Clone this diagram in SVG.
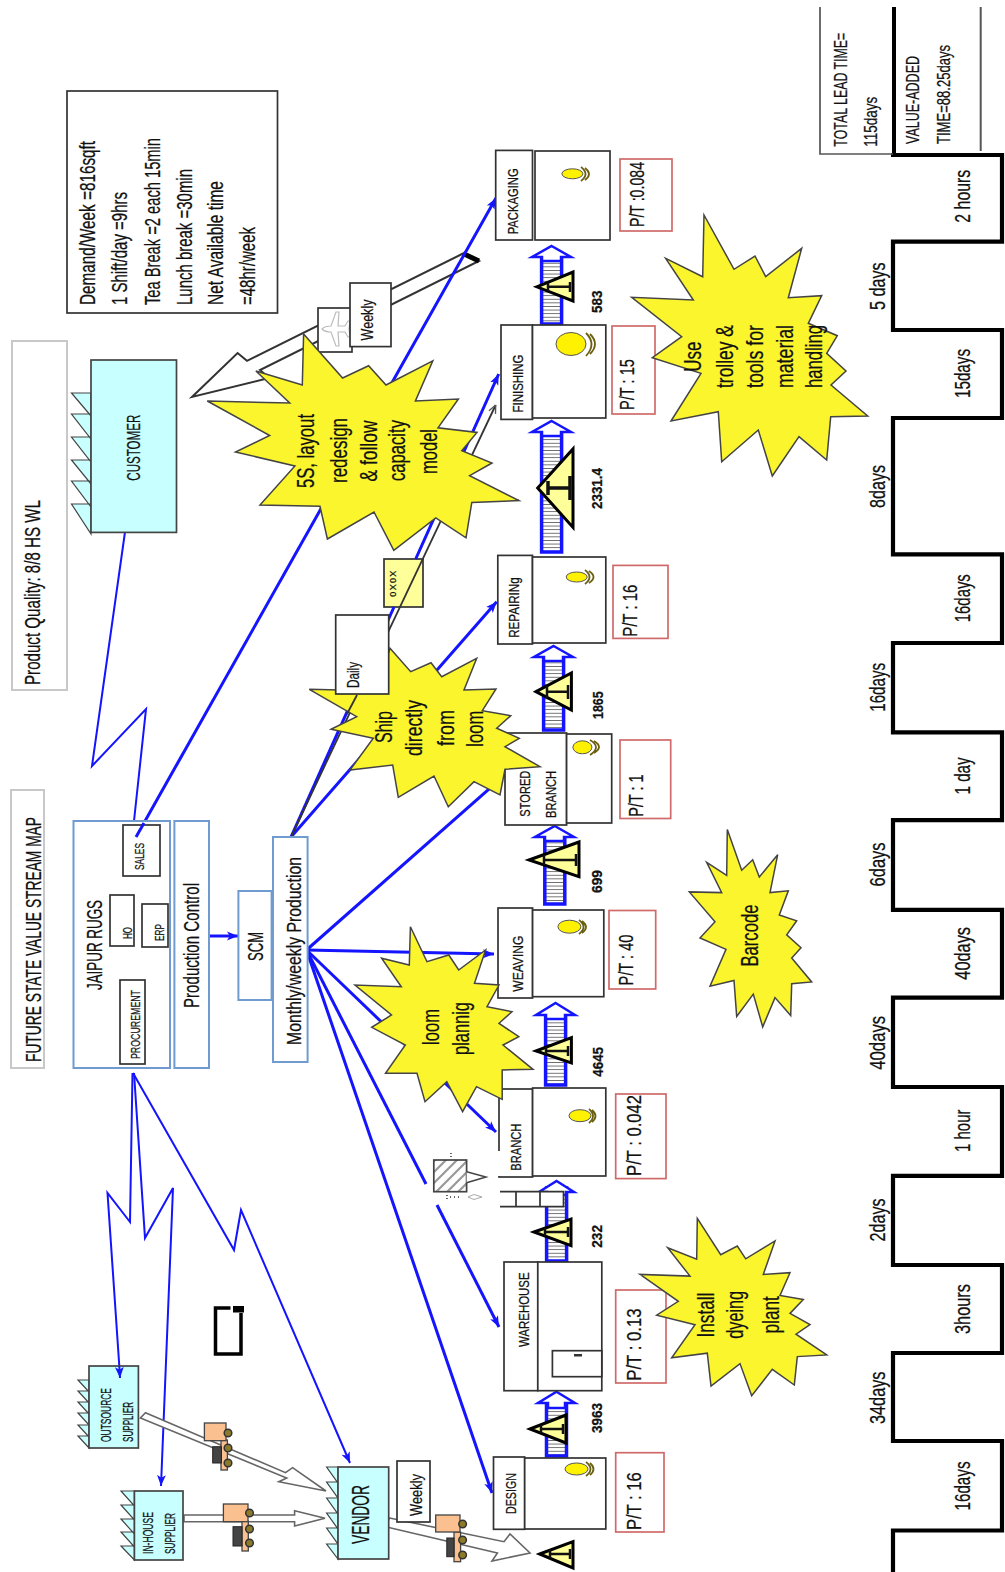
<svg xmlns="http://www.w3.org/2000/svg" width="1005" height="1572" viewBox="0 0 1005 1572">
<style>
text{font-family:"Liberation Sans","Open Sans",sans-serif;fill:#111;stroke:#111;stroke-width:.25}
.s9{font-size:9px}.s12{font-size:12px}.s13{font-size:13px}.s15{font-size:15px}.s17{font-size:17px}.s19{font-size:19px}.s21{font-size:21px}.s22{font-size:22px}.s24{font-size:24px}
.num{font-size:14px;font-weight:bold}
.blue{fill:#fff;stroke:#6f9bd0;stroke-width:2}
.gbox{fill:#fff;stroke:#c8c8c8;stroke-width:2}
.box{fill:#fff;stroke:#333;stroke-width:1.7}
.pt{fill:#fff;stroke:#d06a6a;stroke-width:1.7}
.sup{fill:#c8ffff;stroke:#444;stroke-width:1.7}
.tooth{fill:#c8ffff;stroke:#444;stroke-width:1.2}
.burst{fill:#fbf52e;stroke:#444;stroke-width:1.5;stroke-linejoin:miter}
.b2{fill:none;stroke:#1414ff;stroke-width:2}
.b3{fill:none;stroke:#1414ff;stroke-width:3}
.push{fill:#fff;stroke:#666;stroke-width:1.6}
.tri{fill:#ffff99;stroke:#000;stroke-width:3;stroke-linejoin:miter}
.i{fill:none;stroke:#111;stroke-width:2.5}
.fat{fill:url(#stripes);stroke:#1414ff;stroke-width:3.5}
.head{fill:#fff;stroke:#1414ff;stroke-width:2.5}
.op{fill:#fff200;stroke:#555;stroke-width:1}
.arc{fill:none;stroke:#6b5f10;stroke-width:1.8}
.cab{fill:#444;stroke:#222;stroke-width:1}
.peach{fill:#fac090;stroke:#444;stroke-width:1.3}
.wheel{fill:#8a7a2a;stroke:#333;stroke-width:1.5}
.gl{stroke:#666;stroke-width:1.7;fill:none}
</style>
<defs>
<marker id="ah" viewBox="0 0 10 10" refX="10" refY="5" markerWidth="11" markerHeight="11" markerUnits="userSpaceOnUse" orient="auto"><path d="M0,1L10,5L0,9L2.5,5Z" fill="#1414ff"/></marker>
<marker id="ag" viewBox="0 0 10 10" refX="10" refY="5" markerWidth="9" markerHeight="9" markerUnits="userSpaceOnUse" orient="auto"><path d="M1,1L10,5L1,9" fill="none" stroke="#555" stroke-width="1.5"/></marker>
<pattern id="stripes" patternUnits="userSpaceOnUse" width="3.6" height="3.6"><rect width="3.6" height="3.6" fill="#fff"/><rect width="3.6" height="0.9" fill="#666"/></pattern>
<pattern id="diag" patternUnits="userSpaceOnUse" width="11" height="11"><rect width="11" height="11" fill="#fff"/><path d="M-2,2L2,-2M0,11L11,0M9,13L13,9" stroke="#999" stroke-width="2.2"/></pattern>
</defs>
<rect width="1005" height="1572" fill="#fff"/>

<g id="title"><rect class="gbox" x="11" y="790" width="33" height="278"/>
<text class="s22" transform="translate(41,1062) rotate(-90)" textLength="245" lengthAdjust="spacingAndGlyphs">FUTURE STATE VALUE STREAM MAP</text></g>
<g id="quality"><rect class="gbox" x="12" y="341" width="55" height="349"/>
<text class="s22" transform="translate(40,685) rotate(-90)" textLength="185" lengthAdjust="spacingAndGlyphs">Product  Quality: 8/8 HS WL</text></g>
<g id="notes"><rect x="67" y="91" width="210.500" height="222" fill="#fff" stroke="#333" stroke-width="1.7"/>
<text class="s22" transform="translate(94.500,305) rotate(-90)" textLength="164" lengthAdjust="spacingAndGlyphs">Demand/Week =816sqft</text>
<text class="s22" transform="translate(127,305) rotate(-90)" textLength="113" lengthAdjust="spacingAndGlyphs">1 Shift/day =9hrs</text>
<text class="s22" transform="translate(159.600,305) rotate(-90)" textLength="167" lengthAdjust="spacingAndGlyphs">Tea Break =2 each 15min</text>
<text class="s22" transform="translate(191.700,305) rotate(-90)" textLength="136" lengthAdjust="spacingAndGlyphs">Lunch break =30min</text>
<text class="s22" transform="translate(222.500,305) rotate(-90)" textLength="124" lengthAdjust="spacingAndGlyphs">Net Available time</text>
<text class="s22" transform="translate(255,305) rotate(-90)" textLength="78" lengthAdjust="spacingAndGlyphs">=48hr/week</text></g>

<g id="xoxo"><rect x="384" y="559" width="39" height="48" fill="#ffff99" stroke="#333" stroke-width="1.7"/>
<text class="s9" transform="translate(396,596.700) rotate(-90)" textLength="26" lengthAdjust="spacing">0 X 0 X</text></g>

<g id="connectors">
<path class="gl" d="M463,253.500L247,360.800L237.600,353L192,397L269,378L260,370L479,261Z" style="fill:#fff;stroke:#333;stroke-width:2"/>
<path d="M463,253.500L479,261" stroke="#000" stroke-width="5"/>
<path class="b2" d="M125,532L92,766L146,709L134,821"/>
<path class="b2" d="M132.500,1073L130,1222L107.500,1193L119.300,1366"/>
<path class="b2" d="M134,1073L145,1238L173,1188L161,1486" marker-end="url(#ah)"/>
<path class="b2" d="M133,1073L234,1250L241,1210L350,1463" marker-end="url(#ah)"/>
<path class="b3" d="M136,837L496,198" marker-end="url(#ah)"/>
<path class="b3" d="M209,936L238,936" marker-end="url(#ah)"/>
<path class="b3" d="M306.500,950L522,760"/>
<path class="b3" d="M306.500,950L494,954" marker-end="url(#ah)"/>
<path class="b3" d="M306.500,950L496,1132" marker-end="url(#ah)"/>
<path class="b3" d="M306.500,950L426,1184"/>
<path class="b3" d="M437,1205L499,1327" marker-end="url(#ah)"/>
<path class="b3" d="M306.500,950L492,1493" marker-end="url(#ah)"/>
<path class="b3" d="M291,837L496.700,601.700" marker-end="url(#ah)"/>
<path class="b3" d="M291,837L394,607"/>
<path class="b3" d="M415.700,559L498.700,374" marker-end="url(#ah)"/>
<path d="M291,837L495.700,405" stroke="#333" stroke-width="1.8" fill="none" marker-end="url(#ag)"/>
<path class="push" d="M145.500,1412.700L285.500,1472.700L292.600,1467.700L326,1491L278.800,1481.700L286.700,1478L140.400,1418Z"/>
<path class="push" d="M184,1515L294.600,1515L294.600,1510.700L325,1518.300L294.600,1526L294.600,1521.700L184,1521.700Z"/>
<path class="push" d="M389.500,1518L504,1541.700L510,1534L530,1553L492,1561L497.400,1553L385.500,1526.700Z"/>
</g>

<g id="jaipur-rugs"><rect class="blue" x="73.500" y="821" width="96.500" height="247"/>
<text class="s22" transform="translate(102,990) rotate(-90)" textLength="90" lengthAdjust="spacingAndGlyphs">JAIPUR RUGS</text>
<rect class="box" x="123" y="825" width="37" height="51"/><text class="s13" transform="translate(143.500,870) rotate(-90)" textLength="27" lengthAdjust="spacingAndGlyphs">SALES</text>
<path class="b3" d="M136,837L144,823" />
<rect class="box" x="110" y="895" width="24" height="51"/><text class="s12" transform="translate(131.700,939) rotate(-90)" textLength="12" lengthAdjust="spacingAndGlyphs">HO</text>
<rect class="box" x="142" y="904" width="26" height="43"/><text class="s12" transform="translate(164,941) rotate(-90)" textLength="17" lengthAdjust="spacingAndGlyphs">ERP</text>
<rect class="box" x="120" y="980" width="25" height="84"/><text class="s13" transform="translate(140.400,1059) rotate(-90)" textLength="69" lengthAdjust="spacingAndGlyphs">PROCUREMENT</text></g>
<g id="production-control"><rect class="blue" x="174.400" y="821" width="34.600" height="247"/>
<text class="s22" transform="translate(199,1008) rotate(-90)" textLength="125" lengthAdjust="spacingAndGlyphs">Production  Control</text></g>
<g id="scm"><rect class="blue" x="238.400" y="891" width="33.200" height="109"/>
<text class="s22" transform="translate(263,961) rotate(-90)" textLength="29" lengthAdjust="spacingAndGlyphs">SCM</text></g>
<g id="monthly"><rect class="blue" x="273" y="837" width="34.600" height="225"/>
<text class="s21" transform="translate(300.500,1045) rotate(-90)" textLength="188" lengthAdjust="spacingAndGlyphs">Monthly/weekly  Production</text></g>

<g id="customer"><path class="tooth" d="M91,393H71.500L91,416ZM91,414H71.500L91,439ZM91,437H71.500L91,462ZM91,460H71.500L91,484ZM91,481H71.500L91,507ZM91,504H71.500L91,534Z"/>
<rect class="sup" x="91" y="360" width="85.500" height="172.400"/>
<text class="s19" transform="translate(139.600,480.700) rotate(-90)" textLength="66" lengthAdjust="spacingAndGlyphs">CUSTOMER</text></g>
<g id="outsource"><path class="tooth" d="M89,1380H78L89,1392ZM89,1391H78L89,1403ZM89,1402H78L89,1414ZM89,1413H78L89,1425ZM89,1425H78L89,1437ZM89,1436H78L89,1448Z"/>
<rect class="sup" x="89" y="1366" width="49.400" height="82"/>
<text class="s15" transform="translate(110.700,1442) rotate(-90)" textLength="54" lengthAdjust="spacingAndGlyphs">OUTSOURCE</text>
<text class="s15" transform="translate(132.500,1442) rotate(-90)" textLength="40" lengthAdjust="spacingAndGlyphs">SUPPLIER</text>
<path class="b2" d="M119.300,1366L120,1378" marker-end="url(#ah)"/></g>
<g id="in-house"><path class="tooth" d="M134.400,1491H121L134.400,1506ZM134.400,1505H121L134.400,1520ZM134.400,1519H121L134.400,1534ZM134.400,1532H121L134.400,1547ZM134.400,1546H121L134.400,1560Z"/>
<rect class="sup" x="134.400" y="1491" width="48.600" height="69"/>
<text class="s15" transform="translate(153.400,1554) rotate(-90)" textLength="42" lengthAdjust="spacingAndGlyphs">IN-HOUSE</text>
<text class="s15" transform="translate(175,1554) rotate(-90)" textLength="41" lengthAdjust="spacingAndGlyphs">SUPPLIER</text></g>
<g id="vendor"><path class="tooth" d="M338,1467H326.600L338,1483ZM338,1482H326.600L338,1498ZM338,1498H326.600L338,1514ZM338,1513H326.600L338,1529ZM338,1528H326.600L338,1544ZM338,1544H326.600L338,1559Z"/>
<rect class="sup" x="338" y="1467" width="50.700" height="92"/>
<text class="s24" transform="translate(368.500,1544) rotate(-90)" textLength="59" lengthAdjust="spacingAndGlyphs">VENDOR</text></g>
<g id="weekly-vendor"><rect class="box" x="397" y="1461" width="33" height="61"/>
<text class="s17" transform="translate(422,1516) rotate(-90)" textLength="42" lengthAdjust="spacingAndGlyphs">Weekly</text></g>
<g id="ibox"><path d="M230.500,1308H215.500V1354H241V1313" fill="none" stroke="#000" stroke-width="3.500"/><rect x="233" y="1306" width="11" height="6.500" fill="#000"/></g>

<g id="truck-outsource"><rect class="peach" x="221" y="1440" width="6.400" height="30"/><rect class="cab" x="212.700" y="1446.700" width="8.700" height="16.300"/><rect class="peach" x="204.400" y="1423" width="21.600" height="17.700"/><circle class="wheel" cx="228" cy="1433" r="3.800"/><circle class="wheel" cx="228" cy="1448" r="3.800"/><circle class="wheel" cx="228" cy="1463" r="3.800"/></g>
<g id="truck-in-house"><rect class="peach" x="242" y="1521" width="6.300" height="30"/><rect class="cab" x="233" y="1526.700" width="9" height="19.300"/><rect class="peach" x="223.400" y="1504" width="24.600" height="17.700"/><circle class="wheel" cx="249.500" cy="1513" r="3.800"/><circle class="wheel" cx="249.500" cy="1529" r="3.800"/><circle class="wheel" cx="249.500" cy="1543" r="3.800"/></g>
<g id="truck-vendor"><rect class="peach" x="454" y="1532" width="6.600" height="29.700"/><rect class="cab" x="446.800" y="1538" width="7.200" height="18.700"/><rect class="peach" x="435.700" y="1515" width="24.300" height="17"/><circle class="wheel" cx="462.600" cy="1524" r="3.800"/><circle class="wheel" cx="462.600" cy="1540" r="3.800"/><circle class="wheel" cx="462.600" cy="1555" r="3.800"/></g>

<g id="customer-shipping"><rect class="box" x="318" y="308" width="34" height="44"/>
<path d="M322,329Q325,326 331,326L336,312L339,312L338,326L345,326L348,321L350,321L349,329L350,337L348,337L345,332L338,332L339,346L336,346L331,332Q325,332 322,329Z" fill="#fff" stroke="#bbb" stroke-width="1.2"/>
<rect class="box" x="350" y="283" width="41" height="63.600"/>
<text class="s17" transform="translate(373,340.500) rotate(-90)" textLength="41" lengthAdjust="spacingAndGlyphs">Weekly</text></g>

<g id="push-arrows">
<rect class="fat" x="546.500" y="1400" width="20" height="56"/><path class="head" d="M556.500,1391.700L575,1403H565V1408H548V1403H538Z"/>
<rect class="fat" x="546.600" y="1188" width="20" height="73"/><path class="head" d="M556.600,1181L574,1192H566V1195H547V1192H539Z"/>
<rect class="fat" x="545.600" y="1012" width="20" height="73"/><path class="head" d="M555.600,1003L575,1015H565V1019H546V1015H536Z"/>
<rect class="fat" x="544.800" y="834" width="20" height="70"/><path class="head" d="M554.800,826L574,837H564V841H545V837H535Z"/>
<rect class="fat" x="543.600" y="654" width="20" height="76"/><path class="head" d="M553.600,646L573,657H563V661H544V657H534Z"/>
<rect class="fat" x="541.600" y="429" width="20" height="123"/><path class="head" d="M551.600,421L571,432H561V436H542V432H532Z"/>
<rect class="fat" x="541.600" y="254" width="20" height="70"/><path class="head" d="M551.600,246L571,257H561V261H542V257H532Z"/>
</g>

<g id="inventory">
<g><path class="tri" d="M530,1429L566,1415V1443Z"/><path class="i" d="M541,1429H563M541,1425V1433M563,1424V1434"/><text class="num" transform="translate(601.800,1433) rotate(-90)" textLength="30" lengthAdjust="spacingAndGlyphs">3963</text></g>
<g><path class="tri" d="M534,1232L571,1219V1245.700Z"/><path class="i" d="M545,1232H568M545,1228V1236M568,1227V1237"/><text class="num" transform="translate(601.800,1247.700) rotate(-90)" textLength="22.700" lengthAdjust="spacingAndGlyphs">232</text></g>
<g><path class="tri" d="M536,1051L571.400,1037.700V1063Z"/><path class="i" d="M546,1051H568M546,1047V1055M568,1046V1056"/><text class="num" transform="translate(603,1076.700) rotate(-90)" textLength="29.700" lengthAdjust="spacingAndGlyphs">4645</text></g>
<g><path class="tri" d="M529,860L579,842V876.700Z"/><path class="i" d="M544,860H576M544,855V865M576,854V866"/><text class="num" transform="translate(602,893) rotate(-90)" textLength="23" lengthAdjust="spacingAndGlyphs">699</text></g>
<g><path class="tri" d="M536,691.700L571.400,673V710Z"/><path class="i" d="M547,691.700H568M547,686V698M568,685V699"/><text class="num" transform="translate(603,719) rotate(-90)" textLength="27.600" lengthAdjust="spacingAndGlyphs">1865</text></g>
<g><path class="tri" d="M537.700,488L573,449V527.400Z"/><path class="i" style="stroke-width:3.500" d="M548,488H570M548,481V495M570,476V500"/><text class="num" transform="translate(602,509) rotate(-90)" textLength="41" lengthAdjust="spacingAndGlyphs">2331.4</text></g>
<g><path class="tri" d="M536.800,286.800L573,272V301Z"/><path class="i" d="M548,286.800H570M548,283V291M570,282V292"/><text class="num" transform="translate(602,313) rotate(-90)" textLength="22.500" lengthAdjust="spacingAndGlyphs">583</text></g>
<g><path class="tri" d="M539.700,1554L573,1541.700V1568Z"/><path class="i" d="M550,1554H570M550,1550V1558M570,1549V1559"/></g>
</g>

<g id="design"><rect class="box" x="493.500" y="1457" width="31.200" height="72.300"/><rect class="box" x="524.700" y="1458" width="81.100" height="71"/>
<text class="s15" transform="translate(516,1514) rotate(-90)" textLength="41" lengthAdjust="spacingAndGlyphs">DESIGN</text>
<ellipse class="op" cx="576.500" cy="1469" rx="11.500" ry="6"/><path class="arc" d="M586,1462Q595,1469 586,1476M590,1463Q597,1469 590,1475"/></g>
<g id="warehouse"><rect class="box" x="504" y="1262" width="33.800" height="128.700"/><rect class="box" x="537.800" y="1262" width="64" height="128.700"/>
<rect class="box" x="552.400" y="1350.700" width="49.400" height="26"/><rect x="574" y="1354" width="8" height="2.500" fill="#333"/>
<text class="s15" transform="translate(528.700,1347) rotate(-90)" textLength="74.600" lengthAdjust="spacingAndGlyphs">WAREHOUSE</text></g>
<g id="branch"><rect class="box" x="499" y="1089" width="33.600" height="88"/><rect class="box" x="532.600" y="1088" width="73.200" height="88"/>
<rect x="497" y="1151" width="4" height="25" fill="#fff"/>
<text class="s15" transform="translate(520.800,1170.700) rotate(-90)" textLength="47" lengthAdjust="spacingAndGlyphs">BRANCH</text>
<ellipse class="op" cx="580" cy="1115.700" rx="11" ry="6"/><path class="arc" d="M589,1109Q597,1116 589,1123M592,1110Q599,1116 592,1122"/></g>
<g id="kaizen"><rect x="500" y="1192" width="64" height="15" fill="#fff"/>
<path d="M500,1191.700H563.500V1206.700H500M516,1191.700V1206.700M540,1191.700V1206.700" fill="none" stroke="#333" stroke-width="1.700"/>
<rect x="433.800" y="1160" width="32.800" height="31.700" fill="url(#diag)" stroke="#444" stroke-width="1.700"/>
<path d="M466.600,1171.700L486,1177L466.600,1182.700" fill="#fff" stroke="#444" stroke-width="1.500"/>
<path d="M451,1153v1M451,1156v1M447,1195v1M447,1198v1M450,1197h1M454,1197h1M458,1197h1" stroke="#333" stroke-width="1.500"/>
<path d="M468,1197L474,1194.500L482,1197L474,1199.500Z" fill="#fff" stroke="#aaa"/></g>
<g id="weaving"><rect class="box" x="498" y="908" width="34.600" height="90"/><rect class="box" x="532.600" y="910" width="71.200" height="86.700"/>
<text class="s15" transform="translate(522.700,991.700) rotate(-90)" textLength="56" lengthAdjust="spacingAndGlyphs">WEAVING</text>
<ellipse class="op" cx="569.400" cy="926.700" rx="11.500" ry="6.500"/><path class="arc" d="M579,920Q588,927 579,934M582,921Q590,927 582,933"/></g>
<g id="stored-branch"><rect class="box" x="505" y="733" width="61.600" height="92"/><rect class="box" x="566.600" y="734" width="45.100" height="89"/>
<text class="s15" transform="translate(530,816.700) rotate(-90)" textLength="46" lengthAdjust="spacingAndGlyphs">STORED</text>
<text class="s15" transform="translate(555.500,818) rotate(-90)" textLength="47" lengthAdjust="spacingAndGlyphs">BRANCH</text>
<ellipse class="op" cx="582.400" cy="747.300" rx="9.500" ry="6.500"/><path class="arc" d="M590,740Q602,747 590,755M594,741Q604,747 594,753"/></g>
<g id="repairing"><rect class="box" x="497.800" y="555.400" width="34.700" height="88.600"/><rect class="box" x="532.500" y="557" width="73.300" height="86"/>
<text class="s15" transform="translate(519,637.800) rotate(-90)" textLength="60.500" lengthAdjust="spacingAndGlyphs">REPAIRINg</text>
<ellipse class="op" cx="576.700" cy="577" rx="10.500" ry="5"/><path class="arc" d="M585,570Q594,577 585,584M589,571Q598,577 589,583"/></g>
<g id="finishing"><rect class="box" x="501" y="325" width="31.500" height="94.400"/><rect class="box" x="532.500" y="325" width="73.300" height="93"/>
<text class="s15" transform="translate(522.500,412.500) rotate(-90)" textLength="58" lengthAdjust="spacingAndGlyphs">FINISHING</text>
<ellipse class="op" cx="571" cy="344" rx="15" ry="11.500"/><path class="arc" d="M586,333Q597,344 586,356M590,334Q600,344 590,354"/></g>
<g id="packaging"><rect class="box" x="495.700" y="150.400" width="36.800" height="89.600"/><rect class="box" x="535" y="151" width="75" height="89"/>
<text class="s15" transform="translate(518,234.300) rotate(-90)" textLength="66" lengthAdjust="spacingAndGlyphs">PACKAGING</text>
<ellipse class="op" cx="572.400" cy="173.800" rx="10.500" ry="5"/><path class="arc" d="M581,167Q590,174 581,181M585,168Q593,174 585,180"/></g>

<g id="pt-boxes">
<rect class="pt" x="620" y="159" width="52" height="72"/><text class="s21" transform="translate(644,227) rotate(-90)" textLength="65" lengthAdjust="spacingAndGlyphs">P/T :0.084</text>
<rect class="pt" x="612" y="326" width="43" height="88"/><text class="s21" transform="translate(634,410) rotate(-90)" textLength="51" lengthAdjust="spacingAndGlyphs">P/T : 15</text>
<rect class="pt" x="613" y="565.400" width="55" height="73"/><text class="s21" transform="translate(636.700,636.700) rotate(-90)" textLength="52" lengthAdjust="spacingAndGlyphs">P/T : 16</text>
<rect class="pt" x="620" y="740" width="50.700" height="78.500"/><text class="s21" transform="translate(643,816.800) rotate(-90)" textLength="42.400" lengthAdjust="spacingAndGlyphs">P/T : 1</text>
<rect class="pt" x="609" y="910.500" width="46.700" height="78.500"/><text class="s21" transform="translate(633,985.500) rotate(-90)" textLength="51" lengthAdjust="spacingAndGlyphs">P/T : 40</text>
<rect class="pt" x="615.700" y="1094" width="50.300" height="84.600"/><text class="s21" transform="translate(640.700,1175.900) rotate(-90)" textLength="81" lengthAdjust="spacingAndGlyphs">P/T : 0.042</text>
<rect class="pt" x="615.700" y="1290" width="50.300" height="93"/><text class="s21" transform="translate(640.700,1380.800) rotate(-90)" textLength="72.500" lengthAdjust="spacingAndGlyphs">P/T : 0.13</text>
<rect class="pt" x="615.700" y="1452.700" width="48.300" height="79.300"/><text class="s21" transform="translate(641,1530) rotate(-90)" textLength="57.700" lengthAdjust="spacingAndGlyphs">P/T : 16</text>
</g>

<g id="burst-5s"><polygon class="burst" points="303.600,334 342.600,378 368.600,365.700 386,385 432.800,360.800 415.400,401 458.400,399 438,427.800 477,432.400 461.800,450.800 492,463 469.600,475.700 519,500.600 471.800,502.500 466,537.800 435.800,517.800 393.800,550.400 374,512 327.400,539 320,506.300 260,505 294.900,466 235.500,452 269.700,435.500 207.300,401 289.700,403 255.900,371 302.300,385"/>
<text class="s24" transform="translate(314.400,488) rotate(-90)" textLength="74" lengthAdjust="spacingAndGlyphs">5S, layout</text>
<text class="s24" transform="translate(347,483) rotate(-90)" textLength="65" lengthAdjust="spacingAndGlyphs">redesign</text>
<text class="s24" transform="translate(377,481.500) rotate(-90)" textLength="61" lengthAdjust="spacingAndGlyphs">&amp; follow</text>
<text class="s24" transform="translate(405,481) rotate(-90)" textLength="61" lengthAdjust="spacingAndGlyphs">capacity</text>
<text class="s24" transform="translate(437,474) rotate(-90)" textLength="45" lengthAdjust="spacingAndGlyphs">model</text></g>

<g id="burst-ship"><polygon class="burst" points="390,648.300 410.700,671.700 431,662.700 441.700,676.700 476.700,658.300 464,690 496,689 482.300,710.700 510.700,715.700 496.700,728.300 519.300,738.300 505,746.700 540,766.700 505,769.300 500,795 474,781.700 448.300,806.700 434,776 398.300,797.300 392.700,765 350,770 373.300,738.300 331,729.300 356.700,716.700 309.300,689.300 370,690.700 345,666.700 381,676.700"/>
<text class="s24" transform="translate(391.700,743) rotate(-90)" textLength="32" lengthAdjust="spacingAndGlyphs">Ship</text>
<text class="s24" transform="translate(421.700,756) rotate(-90)" textLength="56" lengthAdjust="spacingAndGlyphs">directly</text>
<text class="s24" transform="translate(454,746) rotate(-90)" textLength="36" lengthAdjust="spacingAndGlyphs">from</text>
<text class="s24" transform="translate(483,746.700) rotate(-90)" textLength="36" lengthAdjust="spacingAndGlyphs">loom</text></g>
<g id="daily"><rect class="box" x="335.700" y="615" width="53" height="79"/>
<text class="s17" transform="translate(359,688) rotate(-90)" textLength="26" lengthAdjust="spacingAndGlyphs">Daily</text></g>
<g id="connector-overlay"><path d="M357,695L347,714" stroke="#333" stroke-width="1.800"/></g>

<g id="burst-loom"><polygon class="burst" points="410.400,926.700 427,961.700 448.800,955 458.700,970 485.600,950 474.500,983.300 499,985 487,1006.700 512,1011.700 499,1023.300 518.800,1036.700 503,1045 533,1069.300 502.200,1070 502.200,1099.300 476.500,1086.700 462.600,1111.700 446.800,1081.700 425,1101.700 417,1073.300 385.500,1073.300 405.300,1045 371.700,1027.300 391.500,1015 355,985 401.300,986.700 381.600,958.300 409.300,965"/>
<text class="s24" transform="translate(439,1045) rotate(-90)" textLength="36" lengthAdjust="spacingAndGlyphs">loom</text>
<text class="s24" transform="translate(468.600,1055) rotate(-90)" textLength="53" lengthAdjust="spacingAndGlyphs">plannig</text></g>

<g id="burst-trolley"><polygon class="burst" points="704,215 734,269.300 755,256 765.700,276.700 801.700,248.300 788.300,297.700 821.700,295.700 808.300,323.300 837.300,335.700 826.700,353.300 846,371 831,385 867.700,416 830.700,416.700 826.700,460 799,436.700 772.300,476 758.300,430 721.700,461.700 718.300,411.700 671,421 701,373.300 652.300,357.700 681.700,336.700 631.700,297.300 693.300,300 665.700,258.300 702.700,276.700"/>
<text class="s24" transform="translate(701,371.700) rotate(-90)" textLength="30" lengthAdjust="spacingAndGlyphs">Use</text>
<text class="s24" transform="translate(733,388) rotate(-90)" textLength="63" lengthAdjust="spacingAndGlyphs">trolley &amp;</text>
<text class="s24" transform="translate(763,388) rotate(-90)" textLength="63" lengthAdjust="spacingAndGlyphs">tools for</text>
<text class="s24" transform="translate(793,388) rotate(-90)" textLength="63" lengthAdjust="spacingAndGlyphs">material</text>
<text class="s24" transform="translate(821.700,388) rotate(-90)" textLength="63" lengthAdjust="spacingAndGlyphs">handling</text></g>

<g id="burst-barcode"><polygon class="burst" points="727.300,829.500 741.700,870.200 752.700,859.800 759.300,877 777.700,854.700 770,892.600 788.300,890.800 779.300,915 796.700,920.800 786.700,934.900 801,947.700 791.700,958 811.700,982 791.700,983.800 790.700,1015.500 775,997.600 762.700,1026.900 753.300,994.100 736.700,1016.500 734,980.400 710,986.200 726,949.400 700,938 715,921.800 689.300,891.900 721.700,892.600 706.700,862.300 726.700,875.300"/>
<text class="s24" transform="translate(757.700,966.600) rotate(-90)" textLength="62" lengthAdjust="spacingAndGlyphs">Barcode</text></g>

<g id="burst-install"><polygon class="burst" points="697.300,1218.400 720.700,1254.700 737.300,1246 745.700,1258.800 775,1240.900 763.300,1274.400 790,1272.700 780,1295.500 803.300,1299.600 790,1313.400 810,1324.500 796,1334.200 826.700,1354.900 797.300,1356.600 794.300,1385 772.300,1369.400 751.700,1395.700 740,1363.600 711,1386 707.300,1353.200 671.700,1357.700 695,1324.800 656.700,1315.200 678.300,1301.300 640,1274.400 690,1276.100 667.700,1247.800 696.700,1259.200"/>
<text class="s24" transform="translate(714,1337.600) rotate(-90)" textLength="45" lengthAdjust="spacingAndGlyphs">Install</text>
<text class="s24" transform="translate(743,1338.700) rotate(-90)" textLength="47.700" lengthAdjust="spacingAndGlyphs">dyeing</text>
<text class="s24" transform="translate(779,1333.500) rotate(-90)" textLength="37.300" lengthAdjust="spacingAndGlyphs">plant</text></g>

<g id="timeline">
<path d="M891,155H1002V241.700H893V330H1002V418H893V554.400H1002V643H893V732.400H1002V820.200H893V909.800H1002V997.600H893V1087H1002V1175.900H893V1265H1002V1353H893V1441H1002V1530.500H893V1572" fill="none" stroke="#000" stroke-width="4.200"/>
<g class="s22">
<text transform="translate(885,310) rotate(-90)" textLength="47.700" lengthAdjust="spacingAndGlyphs">5 days</text>
<text transform="translate(885,508) rotate(-90)" textLength="43" lengthAdjust="spacingAndGlyphs">8days</text>
<text transform="translate(885,711.800) rotate(-90)" textLength="49" lengthAdjust="spacingAndGlyphs">16days</text>
<text transform="translate(885,886.400) rotate(-90)" textLength="44" lengthAdjust="spacingAndGlyphs">6days</text>
<text transform="translate(885,1069.800) rotate(-90)" textLength="54" lengthAdjust="spacingAndGlyphs">40days</text>
<text transform="translate(885,1241.500) rotate(-90)" textLength="43" lengthAdjust="spacingAndGlyphs">2days</text>
<text transform="translate(885,1424) rotate(-90)" textLength="52.500" lengthAdjust="spacingAndGlyphs">34days</text>
<text transform="translate(970,222.700) rotate(-90)" textLength="53" lengthAdjust="spacingAndGlyphs">2 hours</text>
<text transform="translate(970,398) rotate(-90)" textLength="49" lengthAdjust="spacingAndGlyphs">15days</text>
<text transform="translate(970,622.200) rotate(-90)" textLength="48" lengthAdjust="spacingAndGlyphs">16days</text>
<text transform="translate(970,794.400) rotate(-90)" textLength="37" lengthAdjust="spacingAndGlyphs">1 day</text>
<text transform="translate(970,979.700) rotate(-90)" textLength="52.700" lengthAdjust="spacingAndGlyphs">40days</text>
<text transform="translate(970,1152) rotate(-90)" textLength="42.500" lengthAdjust="spacingAndGlyphs">1 hour</text>
<text transform="translate(970,1334) rotate(-90)" textLength="50" lengthAdjust="spacingAndGlyphs">3hours</text>
<text transform="translate(970,1510.500) rotate(-90)" textLength="49" lengthAdjust="spacingAndGlyphs">16days</text>
</g></g>

<g id="lead-time">
<path d="M820,7V154H893" fill="none" stroke="#555" stroke-width="1.700"/>
<path d="M894,7V153" stroke="#000" stroke-width="4"/>
<path d="M980.700,7V151" stroke="#555" stroke-width="2"/>
<text class="s19" transform="translate(847,146.700) rotate(-90)" textLength="114" lengthAdjust="spacingAndGlyphs">TOTAL LEAD TIME=</text>
<text class="s19" transform="translate(876.700,146.700) rotate(-90)" textLength="50" lengthAdjust="spacingAndGlyphs">115days</text>
<text class="s19" transform="translate(919,144) rotate(-90)" textLength="88" lengthAdjust="spacingAndGlyphs">VALUE-ADDED</text>
<text class="s19" transform="translate(950,144) rotate(-90)" textLength="99" lengthAdjust="spacingAndGlyphs">TIME=88.25days</text>
</g>
</svg>
